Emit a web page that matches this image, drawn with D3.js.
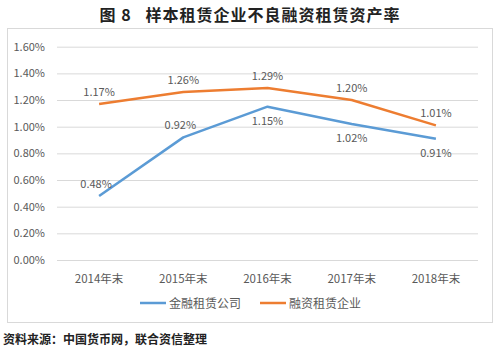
<!DOCTYPE html>
<html>
<head>
<meta charset="utf-8">
<script src="https://cdn.jsdelivr.net/npm/d3@7"></script>
<style>
body { margin: 0; background: #fff; }
svg { font-family: "Noto Sans CJK SC", "Noto Sans", sans-serif; }
</style>
</head>
<body>
<svg width="500" height="352"></svg>
<script>
var categories = ["2014年末", "2015年末", "2016年末", "2017年末", "2018年末"];
var seriesNames = ["金融租赁公司", "融资租赁企业"];
var finLease = [0.48, 0.92, 1.15, 1.02, 0.91];
var finCorp = [1.17, 1.26, 1.29, 1.20, 1.01];
var yTicks = [0, 0.2, 0.4, 0.6, 0.8, 1.0, 1.2, 1.4, 1.6];
// label placement: true = above the point
var finLeaseAbove = [true, true, false, false, false];
var colors = ["#5B9BD5", "#ED7D31"];

var svg = d3.select("svg");
var plotL = 57, plotR = 478, plotT = 46.7, plotB = 260;

svg.append("text")
  .attr("x", 250).attr("y", 21)
  .attr("text-anchor", "middle")
  .attr("font-size", 16).attr("font-weight", "bold")
  .attr("letter-spacing", 1)
  .attr("fill", "#222")
  .style("white-space", "pre")
  .text("图 8   样本租赁企业不良融资租赁资产率");

// chart border
svg.append("rect")
  .attr("x", 7.5).attr("y", 28.5).attr("width", 485).attr("height", 294)
  .attr("fill", "none").attr("stroke", "#d9d9d9");

var x = d3.scaleBand().domain(categories).range([plotL, plotR]);
var y = d3.scaleLinear().domain([0, 1.6]).range([plotB, plotT]);

// grid + y labels
var yAxis = d3.axisLeft(y).tickValues(yTicks)
  .tickSize(-(plotR - plotL)).tickPadding(12)
  .tickFormat(function(d) { return d.toFixed(2) + "%"; });
var gy = svg.append("g").attr("transform", "translate(" + plotL + ",0)").call(yAxis);
gy.select(".domain").remove();
gy.selectAll("line").attr("stroke", "#d9d9d9");
gy.selectAll("text").attr("fill", "#595959").attr("font-size", 11)
  .attr("font-family", "'Noto Sans CJK SC', sans-serif");

// x labels
var gx = svg.append("g").attr("transform", "translate(0," + plotB + ")")
  .call(d3.axisBottom(x).tickSize(0).tickPadding(15));
gx.select(".domain").remove();
gx.selectAll("text").attr("fill", "#595959").attr("font-size", 11.5)
  .attr("font-family", "'Noto Sans CJK SC', sans-serif");

var line = d3.line()
  .x(function(d, i) { return x(categories[i]) + x.bandwidth() / 2; })
  .y(function(d) { return y(d); });

[finLease, finCorp].forEach(function(vals, s) {
  svg.append("path").datum(vals)
    .attr("d", line).attr("fill", "none")
    .attr("stroke", colors[s]).attr("stroke-width", 2.5)
    .attr("stroke-linejoin", "round");

  svg.selectAll(".lbl" + s).data(vals).enter().append("text")
    .attr("x", function(d, i) {
      var cx = x(categories[i]) + x.bandwidth() / 2;
      return (s === 0 && finLeaseAbove[i]) ? cx - 3 : cx;
    })
    .attr("y", function(d, i) {
      var above = s === 1 ? true : finLeaseAbove[i];
      return above ? y(d) - 8 : y(d) + 18;
    })
    .attr("text-anchor", "middle")
    .attr("font-size", 11).attr("fill", "#595959")
    .text(function(d) { return d.toFixed(2) + "%"; });
});

// legend
var legX = [140, 260];
seriesNames.forEach(function(name, s) {
  svg.append("line")
    .attr("x1", legX[s]).attr("x2", legX[s] + 26)
    .attr("y1", 303).attr("y2", 303)
    .attr("stroke", colors[s]).attr("stroke-width", 2.5);
  svg.append("text")
    .attr("x", legX[s] + 29).attr("y", 307.5)
    .attr("font-size", 12).attr("fill", "#595959")
    .text(name);
});

svg.append("text")
  .attr("x", 3).attr("y", 344)
  .attr("font-size", 12).attr("font-weight", "bold")
  .attr("fill", "#222")
  .text("资料来源：中国货币网，联合资信整理");
</script>
</body>
</html>
